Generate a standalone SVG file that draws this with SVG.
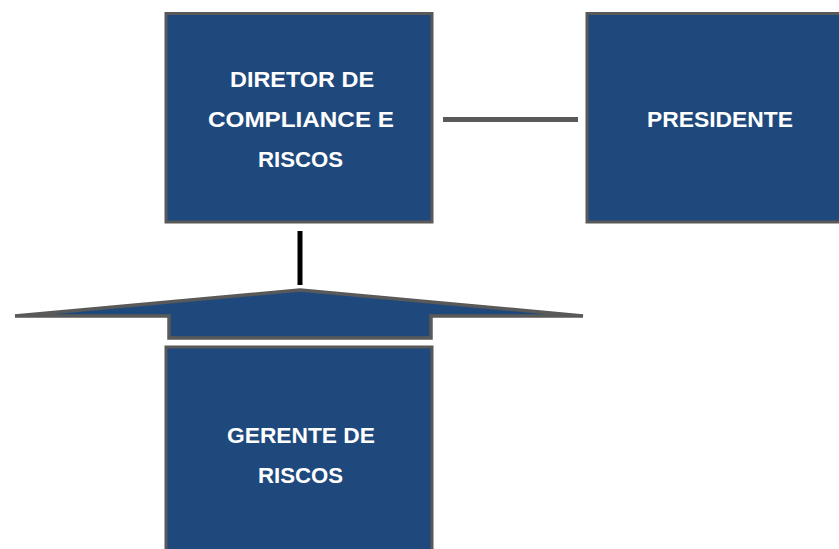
<svg xmlns="http://www.w3.org/2000/svg" width="839" height="549" viewBox="0 0 839 549">
<style>
.box{fill:#1F497D;stroke:#595959;stroke-width:3}
.t{font-family:"Liberation Sans",Arial,sans-serif;font-weight:bold;font-size:22px;fill:#FFFFFF;text-anchor:middle}
</style>
<rect width="839" height="549" fill="#FFFFFF"/>
<g id="connectors">
<line x1="443" y1="119.5" x2="578" y2="119.5" stroke="#595959" stroke-width="5"/>
<line x1="300" y1="231" x2="300" y2="285" stroke="#000000" stroke-width="5"/>
<polygon points="15,316 300,290 583,316 431,316 431,338 169,338 169,316" fill="#1F497D" stroke="#595959" stroke-width="3.5" stroke-linejoin="miter"/>
</g>
<g id="diretor">
<rect class="box" x="166" y="13.5" width="266" height="208.5"/>
<text class="t" x="302" y="87" textLength="144" lengthAdjust="spacingAndGlyphs">DIRETOR DE</text>
<text class="t" x="301" y="127" textLength="186" lengthAdjust="spacingAndGlyphs">COMPLIANCE E</text>
<text class="t" x="300.5" y="167" textLength="85" lengthAdjust="spacingAndGlyphs">RISCOS</text>
</g>
<g id="presidente">
<rect class="box" x="587" y="13.5" width="266" height="208.5"/>
<text class="t" x="720" y="127" textLength="146" lengthAdjust="spacingAndGlyphs">PRESIDENTE</text>
</g>
<g id="gerente">
<rect class="box" x="166" y="347" width="266" height="220"/>
<text class="t" x="301" y="443" textLength="148" lengthAdjust="spacingAndGlyphs">GERENTE DE</text>
<text class="t" x="300.5" y="483" textLength="85" lengthAdjust="spacingAndGlyphs">RISCOS</text>
</g>
</svg>
